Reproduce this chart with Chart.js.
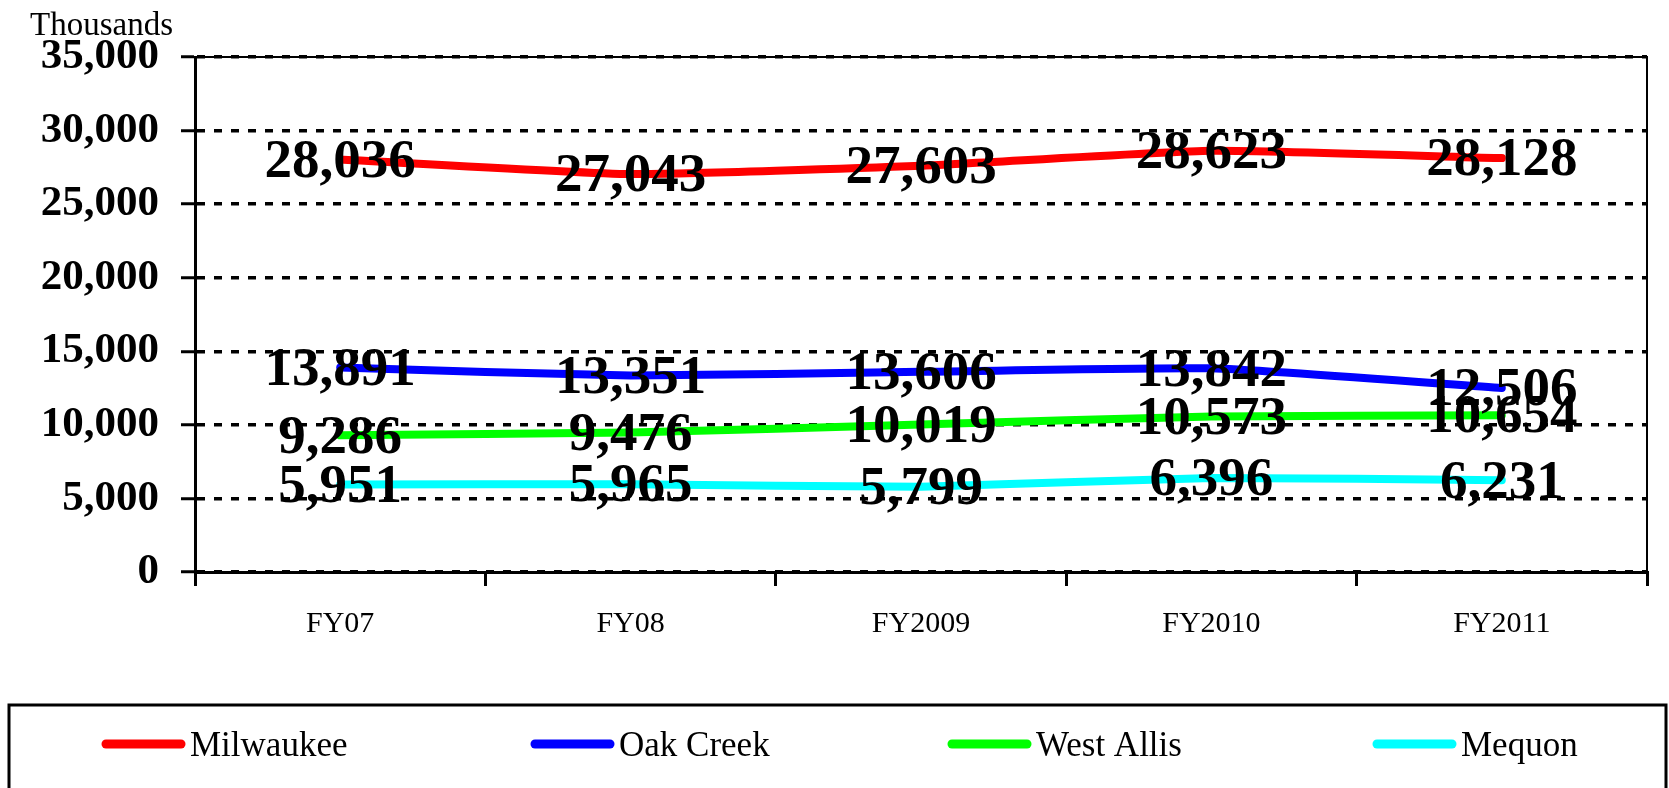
<!DOCTYPE html>
<html>
<head>
<meta charset="utf-8">
<title>Thousands by location</title>
<script src="https://cdn.jsdelivr.net/npm/chart.js@4.4.1/dist/chart.umd.min.js"></script>
<style>
  html, body { margin: 0; padding: 0; background: #fff; }
  #wrap { width: 1669px; height: 788px; position: relative; }
</style>
</head>
<body>
<div id="wrap"><canvas id="chart"></canvas></div>
<script>
const categories = ["FY07", "FY08", "FY2009", "FY2010", "FY2011"];

const milwaukee = [28036, 27043, 27603, 28623, 28128];
const oakCreek = [13891, 13351, 13606, 13842, 12506];
const westAllis = [9286, 9476, 10019, 10573, 10654];
const mequon = [5951, 5965, 5799, 6396, 6231];

const seriesNames = ["Milwaukee", "Oak Creek", "West Allis", "Mequon"];
const seriesColors = ["#ff0000", "#0000ff", "#00ff00", "#00ffff"];

const yMin = 0;
const yMax = 35000;
const yStep = 5000;
const unitLabel = "Thousands";

const serif = "'Liberation Serif', 'Times New Roman', serif";
const fmt = (v) => v.toLocaleString("en-US");

// value labels centred on each point, drawn above every line
const valueLabels = {
  id: "valueLabels",
  afterDatasetsDraw(chart) {
    const ctx = chart.ctx;
    ctx.save();
    ctx.font = "bold 55px " + serif;
    ctx.fillStyle = "#000";
    ctx.textAlign = "center";
    ctx.textBaseline = "middle";
    chart.data.datasets.forEach((ds, i) => {
      chart.getDatasetMeta(i).data.forEach((pt, j) => {
        ctx.fillText(fmt(ds.data[j]), pt.x, pt.y + 3);
      });
    });
    ctx.restore();
  },
};

// plot frame, unit caption and boxed legend
const decorations = {
  id: "decorations",
  afterDraw(chart) {
    const ctx = chart.ctx;
    const area = chart.chartArea;
    ctx.save();

    ctx.strokeStyle = "#000";
    ctx.lineWidth = 2;
    ctx.beginPath();
    ctx.moveTo(area.left, area.top);
    ctx.lineTo(area.right, area.top);
    ctx.lineTo(area.right, area.bottom);
    ctx.stroke();

    ctx.fillStyle = "#000";
    ctx.font = "33px " + serif;
    ctx.textAlign = "left";
    ctx.textBaseline = "alphabetic";
    ctx.fillText(unitLabel, 30, 35);

    // legend box
    ctx.lineWidth = 3;
    ctx.strokeRect(9, 705, 1657, 100);

    const itemX = [102, 531, 948, 1373];
    const legendY = 744;
    ctx.font = "35px " + serif;
    ctx.textBaseline = "middle";
    chart.data.datasets.forEach((ds, i) => {
      ctx.strokeStyle = ds.borderColor;
      ctx.lineWidth = 9;
      ctx.lineCap = "round";
      ctx.beginPath();
      ctx.moveTo(itemX[i] + 4, legendY);
      ctx.lineTo(itemX[i] + 79, legendY);
      ctx.stroke();
      ctx.fillStyle = "#000";
      ctx.fillText(ds.label, itemX[i] + 88, legendY + 3);
    });
    ctx.restore();
  },
};

const seriesValues = [milwaukee, oakCreek, westAllis, mequon];

new Chart(document.getElementById("chart"), {
  type: "line",
  data: {
    labels: categories,
    datasets: seriesValues.map((values, i) => ({
      label: seriesNames[i],
      data: values,
      borderColor: seriesColors[i],
      backgroundColor: seriesColors[i],
      borderWidth: 8,
      pointRadius: 0,
      tension: 0.15,
      borderCapStyle: "round",
      borderJoinStyle: "round",
    })),
  },
  options: {
    responsive: true,
    maintainAspectRatio: false,
    animation: false,
    devicePixelRatio: 1,
    layout: { padding: { top: 57, right: 22, bottom: 100, left: 0 } },
    plugins: {
      legend: { display: false },
      tooltip: { enabled: false },
    },
    scales: {
      x: {
        offset: true,
        grid: {
          offset: true,
          drawOnChartArea: false,
          color: "#000",
          lineWidth: 3,
          tickLength: 14,
        },
        border: { display: true, color: "#000", width: 3 },
        ticks: {
          color: "#000",
          font: { family: serif, size: 30 },
          padding: 20,
          maxRotation: 0,
        },
        afterFit: (scale) => { scale.height = 116; },
      },
      y: {
        min: yMin,
        max: yMax,
        grid: {
          color: "#000",
          lineWidth: 3.5,
          tickLength: 14,
          tickColor: "#000",
          tickWidth: 3,
          tickBorderDash: [],
        },
        border: { display: true, color: "#000", width: 3, dash: [8, 9] },
        ticks: {
          stepSize: yStep,
          color: "#000",
          font: { family: serif, size: 43, weight: "bold" },
          padding: 22,
          callback: (v) => fmt(v),
        },
        afterFit: (scale) => { scale.width = 195; },
      },
    },
  },
  plugins: [valueLabels, decorations],
});
</script>
</body>
</html>
